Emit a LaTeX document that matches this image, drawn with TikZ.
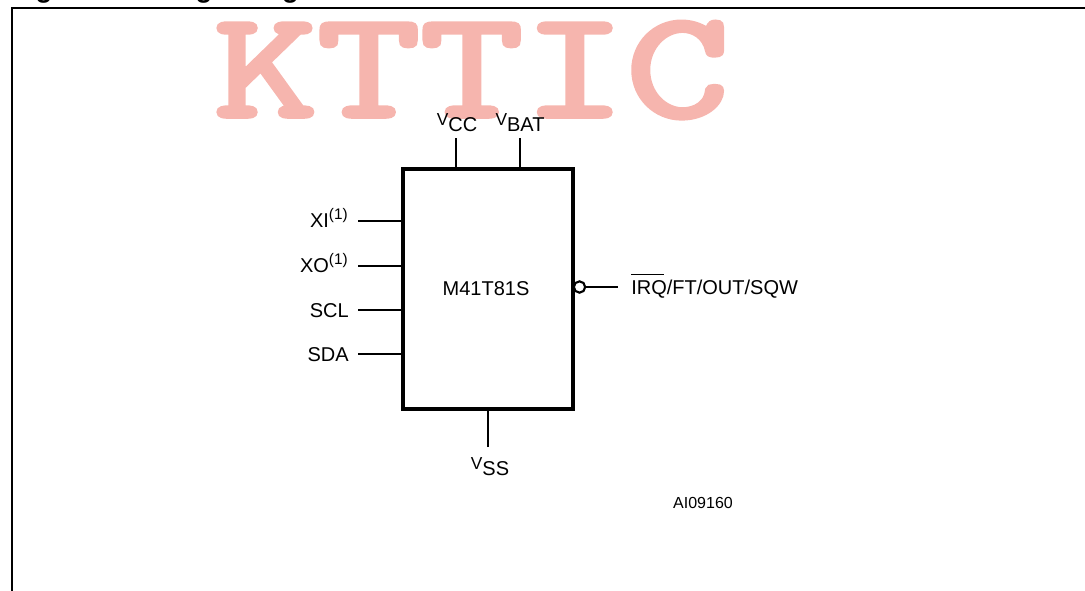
\documentclass[tikz,border=0pt]{standalone}
\usepackage{fontspec}
\setmainfont{Liberation Sans}
\newfontfamily\markfont[FakeBold=3]{Latin Modern Mono}
\usepackage{xcolor}
\definecolor{markpink}{HTML}{F6B5AE}
\newcommand{\vlabel}[1]{{\fontsize{13}{13}\selectfont V}\raisebox{-5pt}{#1}}
\newcommand{\noted}[1]{#1\raisebox{6pt}{\fontsize{11.5}{11.5}\selectfont (1)}}
\tikzset{
  chip/.style={draw=black,line width=2.6pt,minimum width=127.5pt,minimum height=180pt,inner sep=0pt},
  pinline/.style={draw=black,line width=1.7pt},
  pinlabel/.style={inner sep=0pt,font=\fontsize{15}{15}\selectfont},
  bubble/.style={circle,draw=black,line width=1.6pt,minimum size=8.5pt,inner sep=0pt,fill=white}
}

\begin{document}
\begin{tikzpicture}[x=0.75pt,y=-0.75pt]
\useasboundingbox (0,0) rectangle (1085,590);

% watermark first, so everything sits on it
\node[inner sep=0pt,anchor=base west,text=markpink] (W) at (214,116.5)
  {\scalebox{1.25}[0.95]{\fontsize{120}{120}\selectfont\markfont KTTIC}};
\node[inner sep=0pt,anchor=base west,font=\bfseries\fontsize{20.5}{20.5}\selectfont] (T1) at (11,-3) {Figure 2.};
\node[inner sep=0pt,anchor=base west,font=\bfseries\fontsize{20.5}{20.5}\selectfont] (T2) at (162,-3) {Logic diagram};

\draw[line width=1.9pt] (12,600) -- (12,8) -- (1100,8);

\node[chip] (U) at (488,289) {\hspace*{-3pt}\fontsize{15}{15}\selectfont M41T81S};

% pin ends
\coordinate (XIa) at (358,221);
\coordinate (XOa) at (358,266);
\coordinate (SCLa) at (358,310);
\coordinate (SDAa) at (358,354);
\coordinate (VCCa) at (456,138);
\coordinate (VBATa) at (520,138);
\coordinate (VSSa) at (488,447);
\coordinate (IRQa) at (618,287);
\node[bubble] (B) at (579.5,287) {};

\path (XIa) edge [pinline] (XIa -| U.west);
\path (XOa) edge [pinline] (XOa -| U.west);
\path (SCLa) edge [pinline] (SCLa -| U.west);
\path (SDAa) edge [pinline] (SDAa -| U.west);
\path (VCCa) edge [pinline] (VCCa |- U.north);
\path (VBATa) edge [pinline] (VBATa |- U.north);
\path (VSSa) edge [pinline] (VSSa |- U.south);
\path (B) edge [pinline] (IRQa);

\node[pinlabel,anchor=base east] (XI) at (348,227) {\noted{XI}};
\node[pinlabel,anchor=base east] (XO) at (348,272) {\noted{XO}};
\node[pinlabel,anchor=base east] (SCL) at (349,317) {SCL};
\node[pinlabel,anchor=base east] (SDA) at (349,361) {SDA};
\node[pinlabel,anchor=base] (VCC) at (457,125) {\vlabel{CC}};
\node[pinlabel,anchor=base] (VBAT) at (520,125) {\vlabel{BAT}};
\node[pinlabel,anchor=base] (VSS) at (490,469) {\vlabel{SS}};
\node[pinlabel,anchor=base west] (IRQ) at (631,294) {\rlap{\raisebox{14.5pt}{\rule{24.5pt}{0.7pt}}}IRQ/FT/OUT/SQW};
\node[pinlabel,anchor=base,font=\fontsize{12}{12}\selectfont] (AI) at (703,508) {AI09160};
\end{tikzpicture}
\end{document}
